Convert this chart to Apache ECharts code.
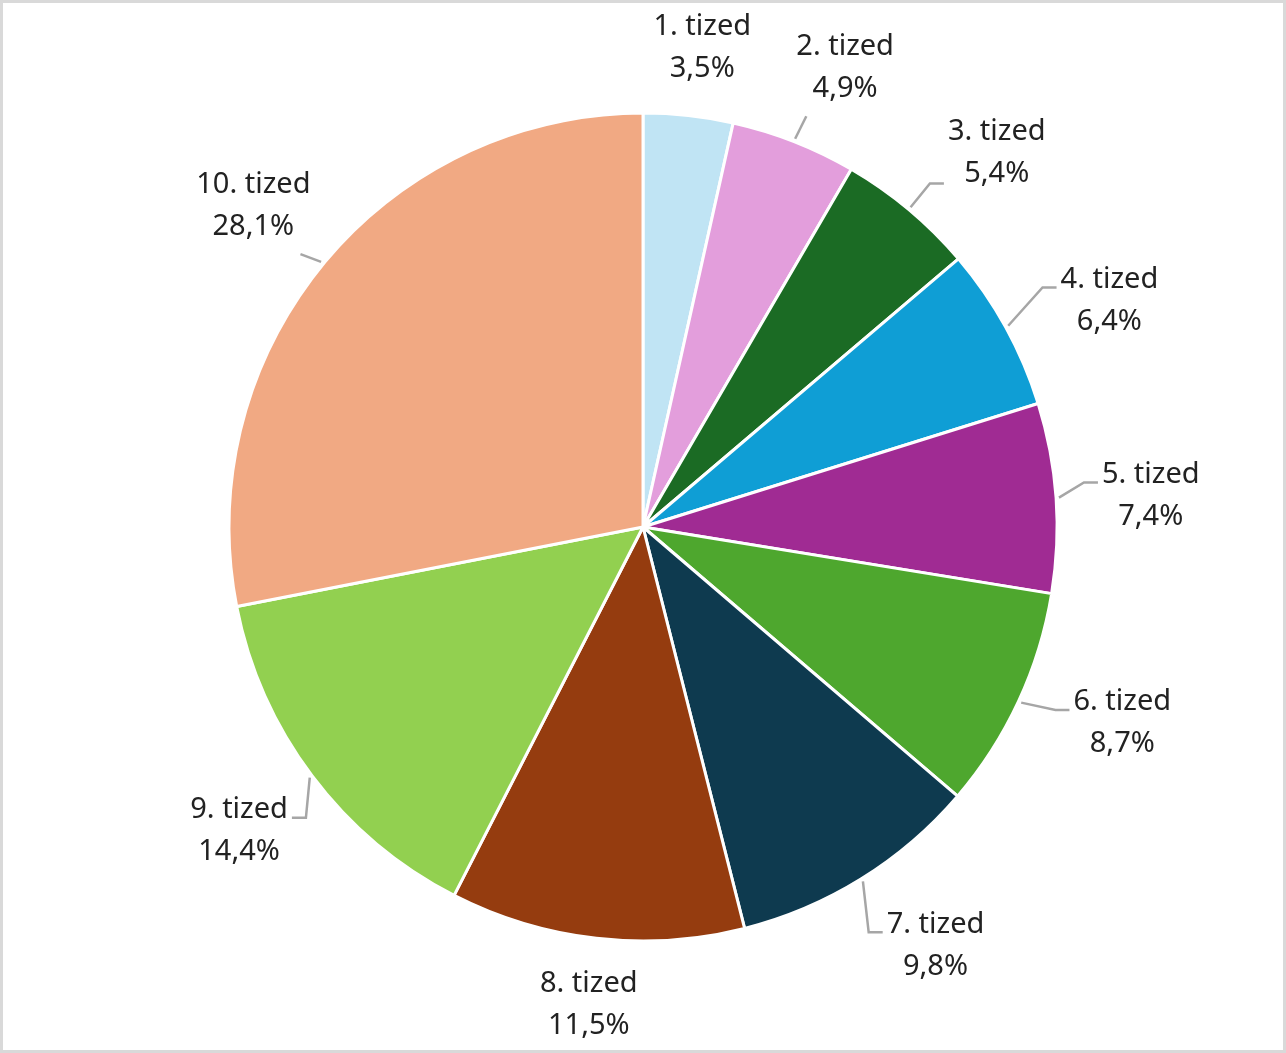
<!DOCTYPE html>
<html>
<head>
<meta charset="utf-8">
<script src="https://cdn.jsdelivr.net/npm/echarts@6/dist/echarts.min.js"></script>
<style>
  html, body { margin: 0; padding: 0; background: #fff; }
  #chart { width: 1280px; height: 1047px; border: 3px solid #d9d9d9; }
</style>
</head>
<body>
<div id="chart"></div>
<script>
// tizedek és részesedésük (%)
const categories = ['1. tized', '2. tized', '3. tized', '4. tized', '5. tized',
  '6. tized', '7. tized', '8. tized', '9. tized', '10. tized']
const shares = [3.5, 4.9, 5.4, 6.4, 7.4, 8.7, 9.8, 11.5, 14.4, 28.1]
const colors = ['#c0e4f4', '#e39edc', '#1b6b24', '#0f9ed5', '#a02b93',
  '#4ea72e', '#0e3a4f', '#953c0f', '#92d050', '#f1a983']

const CX = 640, CY = 524, R = 414
const LINE_H = 42

// szeletek középszöge (felülről, óramutató szerint)
const total = shares.reduce((a, b) => a + b, 0)
let acc = 0
const midAngles = shares.map(v => {
  const a = (acc + v / 2) / total * 2 * Math.PI
  acc += v
  return a
})

const chart = echarts.init(document.getElementById('chart'))

const data = categories.map((name, i) => ({
  name,
  value: shares[i],
  itemStyle: { color: colors[i] }
}))

const txt = { fontFamily: 'Noto Sans', fontSize: 29, lineHeight: LINE_H, color: '#222', align: 'center' }

// Excel "legjobb illesztés" jellegű elhelyezés + vezetővonal
function placeLabel(params) {
  const a0 = midAngles[params.dataIndex]
  const right = Math.sin(a0) > 0
  const a = right ? a0 + 3.5 * Math.PI / 180 * Math.sin(2 * a0) : a0
  const ux = Math.sin(a), uy = -Math.cos(a)
  const hw = params.labelRect.width / 2, hh = LINE_H
  const gap = right ? 20 + 25 * ux : 20 + 15 * Math.max(uy, 0) * Math.abs(ux)
  // d: a doboz legközelebbi pontja R + gap távolságra legyen
  let lo = R, hi = R + 400
  for (let k = 0; k < 40; k++) {
    const d = (lo + hi) / 2
    const ex = Math.max(Math.abs(ux * d) - hw, 0), ey = Math.max(Math.abs(uy * d) - hh, 0)
    if (Math.hypot(ex, ey) < R + gap) lo = d; else hi = d
  }
  const cx = CX + ux * lo, cy = CY + uy * lo
  const top = cy - hh, bottom = cy + hh, left = cx - hw, rgt = cx + hw

  const p0 = [CX + Math.sin(a0) * (R + 3), CY - Math.cos(a0) * (R + 3)]
  // a vonal az első sorhoz csatlakozik, kivéve ha a címke teljesen a pont fölött van
  const yAtt = p0[1] > bottom ? cy + LINE_H / 2 + 10 : cy - LINE_H / 2 + 8
  let pts
  if (right && left - 18 >= p0[0] - 5) {
    pts = [p0, [left - 18, yAtt], [left - 4, yAtt]]
  } else if (!right && rgt + 18 <= p0[0] + 5) {
    pts = [p0, [rgt + 18, yAtt], [rgt + 4, yAtt]]
  } else {
    const ex = Math.min(Math.max(p0[0], left + 10), rgt - 10)
    const ey = p0[1] < top ? top - 6 : bottom + 6
    pts = Math.hypot(ex - p0[0], ey - p0[1]) < 20 ? [p0, p0, p0] : [p0, [ex, ey], [ex, ey]]
  }
  return { x: cx, y: cy, align: 'center', verticalAlign: 'middle', labelLinePoints: pts }
}

chart.setOption({
  animation: false,
  series: [{
    type: 'pie',
    center: [CX, CY],
    radius: R,
    startAngle: 90,
    clockwise: true,
    data,
    itemStyle: { borderColor: '#fff', borderWidth: 3 },
    label: {
      show: true,
      position: 'outside',
      formatter: p => '{t|' + p.name + '}\n{t|' + p.value.toFixed(1).replace('.', ',') + '%}',
      rich: { t: txt },
      fontFamily: 'Noto Sans',
      fontSize: 29,
      color: '#222'
    },
    labelLine: {
      length: 20,
      length2: 14,
      lineStyle: { color: '#a6a6a6', width: 2.5 }
    },
    labelLayout: placeLabel
  }]
})
</script>
</body>
</html>
